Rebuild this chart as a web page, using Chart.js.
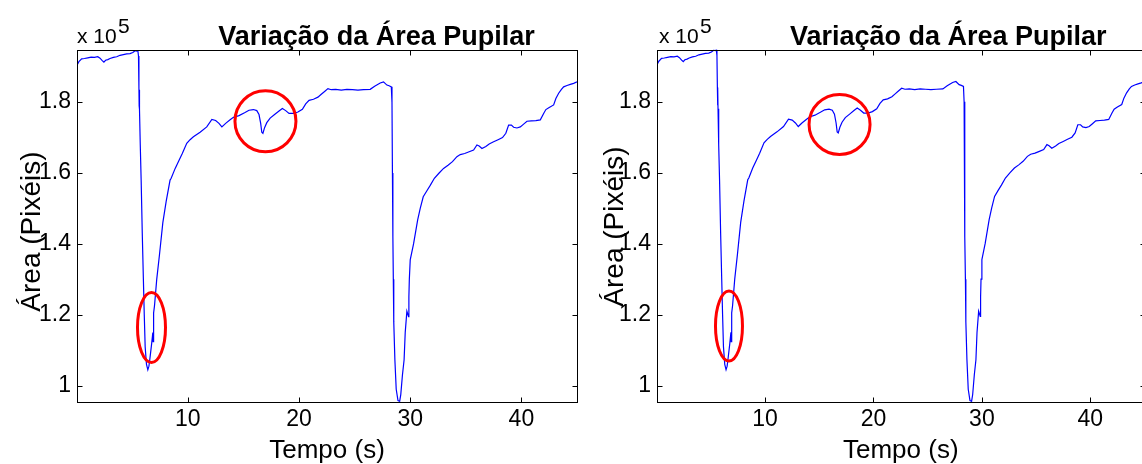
<!DOCTYPE html>
<html>
<head>
<meta charset="utf-8">
<script src="https://cdn.jsdelivr.net/npm/chart.js@4.4.1/dist/chart.umd.min.js"></script>
<style>
  body { margin: 0; background: #fff; width: 1142px; height: 464px; overflow: hidden; position: relative; }
  canvas { position: absolute; top: 0; }
</style>
</head>
<body>
<canvas id="leftChart" width="580" height="464" style="left:0"></canvas>
<canvas id="rightChart" width="570" height="464" style="left:580px"></canvas>
<script>
// time (s) and pupil area (x 10^5 pixels)
const tempo = [
  0.03, 0.2, 0.45, 0.7, 1.0, 1.3, 1.6, 1.9, 2.1, 2.3, 2.45, 2.6, 2.8, 3.0, 3.3, 3.6, 3.9, 4.2, 4.5, 4.8, 5.05, 5.26, 5.4, 5.5,
  5.56, 5.6, 5.62, 5.64, 5.66, 5.72, 5.8, 5.9, 6.0, 6.08, 6.16, 6.28, 6.4,
  6.5, 6.6, 6.75, 6.85, 6.88, 6.92, 7.0, 7.2, 7.45, 7.75, 8.05, 8.4, 8.5, 8.86, 9.2, 9.5, 9.9, 10.2, 10.5, 11.1, 11.7,
  12.16, 12.5, 12.8, 13.06, 13.4, 13.8, 14.1, 14.6, 15.1, 15.5, 15.9, 16.2, 16.4, 16.55, 16.65, 16.75, 16.9, 17.1, 17.4,
  17.8, 18.2, 18.5, 18.8, 19.1, 19.5, 19.9, 20.3, 20.6, 20.9, 21.3, 21.7, 22.0, 22.3, 22.6, 22.9, 23.3, 23.8, 24.3, 24.8,
  25.3, 25.8, 26.4, 26.8, 27.3, 27.6, 27.9, 28.1, 28.3,
  28.36, 28.4, 28.44, 28.48, 28.52, 28.62, 28.74, 28.9, 29.05, 29.15, 29.3, 29.45, 29.55, 29.7, 29.85, 29.88, 29.92, 30.0,
  30.3, 30.67, 30.9, 31.17, 31.5, 31.8, 32.17, 32.6, 33.0, 33.4, 33.8, 34.2, 34.5, 34.9, 35.3, 35.7, 36.0, 36.2, 36.45,
  36.8, 37.1, 37.5, 37.9, 38.3, 38.6, 38.85, 39.1, 39.3, 39.6, 39.9, 40.2, 40.5, 40.9, 41.3, 41.7, 42.0, 42.2, 42.5, 42.9,
  43.1, 43.35, 43.6, 43.8, 44.1, 44.4, 44.7, 45.0
];
const area = [
  1.904, 1.914, 1.922, 1.923, 1.925, 1.927, 1.926, 1.928, 1.924, 1.917, 1.913, 1.918, 1.920, 1.923, 1.926, 1.928, 1.932, 1.934, 1.936, 1.937, 1.940, 1.945, 1.944, 1.946,
  1.930, 1.840, 1.790, 1.835, 1.780, 1.680, 1.580, 1.430, 1.300, 1.200, 1.110, 1.060, 1.045,
  1.055, 1.080, 1.120, 1.150, 1.124, 1.205, 1.225, 1.300, 1.370, 1.460, 1.520, 1.580, 1.585, 1.613, 1.635, 1.655, 1.684, 1.694, 1.702, 1.715, 1.730,
  1.751, 1.748, 1.740, 1.730, 1.740, 1.750, 1.757, 1.762, 1.770, 1.777, 1.779, 1.776, 1.765, 1.740, 1.715, 1.712, 1.728, 1.742, 1.755,
  1.765, 1.775, 1.782, 1.776, 1.768, 1.768, 1.772, 1.780, 1.795, 1.805, 1.808, 1.814, 1.822, 1.830, 1.838, 1.835, 1.836, 1.834, 1.836, 1.835,
  1.834, 1.835, 1.836, 1.845, 1.854, 1.857, 1.848, 1.846, 1.843,
  1.800, 1.600, 1.420, 1.300, 1.180, 1.073, 0.990, 0.958, 0.956, 0.975, 1.030, 1.073, 1.150, 1.210, 1.195, 1.250, 1.300, 1.355,
  1.400, 1.468, 1.500, 1.533, 1.550, 1.565, 1.585, 1.600, 1.613, 1.622, 1.632, 1.646, 1.652, 1.655, 1.660, 1.665, 1.679, 1.676, 1.669,
  1.675, 1.682, 1.688, 1.694, 1.700, 1.712, 1.735, 1.735, 1.729, 1.727, 1.730, 1.738, 1.746, 1.747, 1.748, 1.750, 1.768, 1.779, 1.785, 1.792,
  1.810, 1.825, 1.836, 1.843, 1.847, 1.850, 1.853, 1.857
];
const xTicks = [10, 20, 30, 40];
const yTicks = [1.0, 1.2, 1.4, 1.6, 1.8];

// red marks drawn on each panel: centre (s, x10^5)
const leftRings = [[6.73, 1.164, 14, 35], [16.98, 1.746, 30.5, 30.5]];
const rightRings = [[6.67, 1.168, 13.5, 35], [16.87, 1.736, 30.5, 30]];

const FONT = "'Liberation Sans', Arial, Helvetica, sans-serif";

const decor = {
  id: 'decor',
  afterDraw(chart, args, o) {
    const { ctx, chartArea: a, scales: { x, y } } = chart;
    ctx.save();
    // box and inward ticks
    ctx.strokeStyle = '#000';
    ctx.lineWidth = 1;
    const L = Math.round(a.left) + 0.5, R = Math.round(a.right) + 0.5;
    const T = Math.round(a.top) + 0.5, B = Math.round(a.bottom) + 0.5;
    ctx.strokeRect(L, T, R - L, B - T);
    ctx.beginPath();
    xTicks.forEach(v => {
      const px = Math.round(x.getPixelForValue(v)) + 0.5;
      ctx.moveTo(px, B); ctx.lineTo(px, B - 5);
      ctx.moveTo(px, T); ctx.lineTo(px, T + 5);
    });
    yTicks.forEach(v => {
      const py = Math.round(y.getPixelForValue(v)) + 0.5;
      ctx.moveTo(L, py); ctx.lineTo(L + 5, py);
      ctx.moveTo(R, py); ctx.lineTo(R - 5, py);
    });
    ctx.stroke();

    // red rings
    ctx.strokeStyle = '#f00';
    ctx.lineWidth = 3;
    o.rings.forEach(([t, v, rx, ry]) => {
      ctx.beginPath();
      ctx.ellipse(x.getPixelForValue(t), y.getPixelForValue(v), rx, ry, 0, 0, Math.PI * 2);
      ctx.stroke();
    });

    // texts
    ctx.fillStyle = '#000';
    ctx.textBaseline = 'alphabetic';
    ctx.textAlign = 'center';
    ctx.font = 'bold 27px ' + FONT;
    ctx.fillText('Variação da Área Pupilar', o.titleX, 45);

    ctx.textAlign = 'left';
    ctx.font = '21px ' + FONT;
    ctx.fillText('x 10', o.expX, 43);
    ctx.fillText('5', o.expX + 41, 33);

    ctx.textAlign = 'center';
    ctx.font = '26px ' + FONT;
    ctx.fillText('Tempo (s)', (a.left + a.right) / 2, 458);

    ctx.translate(o.ylabX, o.ylabY);
    ctx.rotate(-Math.PI / 2);
    ctx.font = '28px ' + FONT;
    ctx.fillText('Área (Pixéis)', 0, 0);
    ctx.restore();
  }
};

function makePanel(id, opts) {
  const pts = tempo.map((t, i) => ({ x: t, y: area[i] }));
  return new Chart(document.getElementById(id), {
    type: 'line',
    data: {
      datasets: [{
        data: pts,
        borderColor: '#0000ff',
        borderWidth: 1.2,
        pointRadius: 0,
        tension: 0,
        fill: false
      }]
    },
    options: {
      responsive: false,
      animation: false,
      devicePixelRatio: 1,
      layout: { padding: { left: 0, right: opts.padRight, top: opts.padTop, bottom: 0 } },
      plugins: {
        legend: { display: false },
        title: { display: false },
        tooltip: { enabled: false },
        decor: opts
      },
      scales: {
        x: {
          type: 'linear',
          min: 0.03,
          max: 45,
          grid: { display: false, drawTicks: false },
          border: { display: false },
          afterBuildTicks: s => { s.ticks = xTicks.map(v => ({ value: v })); },
          afterFit: s => { s.height = 62; },
          ticks: {
            padding: 4,
            maxRotation: 0,
            autoSkip: false,
            color: '#000',
            font: { family: FONT, size: 23 },
            callback: v => String(v)
          }
        },
        y: {
          min: 0.954,
          max: 1.947,
          grid: { display: false, drawTicks: false },
          border: { display: false },
          afterBuildTicks: s => { s.ticks = yTicks.map(v => ({ value: v })); },
          afterFit: s => { s.width = 77; },
          ticks: {
            padding: 6,
            color: '#000',
            font: { family: FONT, size: 23 },
            callback: v => String(v)
          }
        }
      }
    },
    plugins: [decor]
  });
}

makePanel('leftChart', {
  padRight: 3, padTop: 50, rings: leftRings,
  titleX: 376.5, expX: 77, ylabX: 40, ylabY: 231.5
});
makePanel('rightChart', {
  padRight: 5.5, padTop: 49.5, rings: rightRings,
  titleX: 368.3, expX: 79, ylabX: 43, ylabY: 226.5
});
</script>
</body>
</html>
